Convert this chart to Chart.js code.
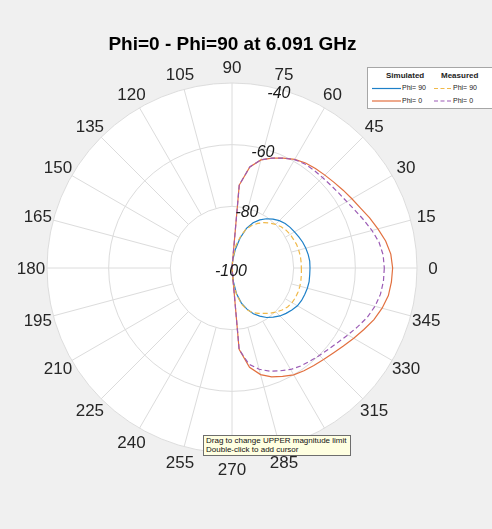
<!DOCTYPE html>
<html>
<head>
<meta charset="utf-8">
<script src="https://cdn.jsdelivr.net/npm/chart.js@4.4.1/dist/chart.umd.min.js"></script>
<style>
  html, body { margin: 0; padding: 0; background: #f0f0f0; }
  #wrap { position: relative; width: 492px; height: 529px; overflow: hidden;
          font-family: "Liberation Sans", Arial, Helvetica, sans-serif; }
  #grafico { position: absolute; left: 0; top: 0; }
  #titulo { position: absolute; left: 0; top: 34px; width: 465px; text-align: center;
            font-size: 19px; line-height: 19px; font-weight: bold; color: #000; }
  #legenda { position: absolute; left: 367px; top: 67px; width: 132px; height: 40px;
             background: #fff; border: 1px solid #a6a6a6; color: #222; }
  #legenda .cab { position: absolute; top: 3px; font-size: 8px; font-weight: bold; line-height: 9px; }
  #legenda .txt { position: absolute; font-size: 7px; line-height: 8px; }
  #legenda svg { position: absolute; left: 0; top: 0; }
  #dica { position: absolute; left: 203px; top: 435px; width: 144px; height: 18px;
          background: #ffffe1; border: 1px solid #6e6e6e; font-size: 8px; line-height: 8.5px;
          color: #111; padding-left: 2px; padding-top: 1px; white-space: nowrap; }
</style>
</head>
<body>
<div id="wrap">
  <canvas id="grafico" width="492" height="529"></canvas>
  <div id="titulo">Phi=0 - Phi=90 at 6.091 GHz</div>
  <div id="legenda">
    <svg width="132" height="40">
      <line x1="4" y1="20.5" x2="33" y2="20.5" stroke="#1e80c8" stroke-width="1.2"/>
      <line x1="66" y1="20.5" x2="83" y2="20.5" stroke="#f0b94a" stroke-width="1.2" stroke-dasharray="4,2.5"/>
      <line x1="4" y1="33" x2="33" y2="33" stroke="#e2703f" stroke-width="1.2"/>
      <line x1="66" y1="33" x2="83" y2="33" stroke="#9b5bb5" stroke-width="1.2" stroke-dasharray="4,2.5"/>
    </svg>
    <div class="cab" style="left:18px">Simulated</div>
    <div class="cab" style="left:73px">Measured</div>
    <div class="txt" style="left:34px; top:16px">Phi= 90</div>
    <div class="txt" style="left:85px; top:16px">Phi= 90</div>
    <div class="txt" style="left:34px; top:29px">Phi= 0</div>
    <div class="txt" style="left:85px; top:29px">Phi= 0</div>
  </div>
  <div id="dica">Drag to change UPPER magnitude limit<br>Double-click to add cursor</div>
</div>
<script>
// angulos de 5 em 5 graus, anti-horario a partir do 0 (direita)
const angulos = [
  0, 5, 10, 15, 20, 25, 30, 35, 40, 45, 50, 55, 60, 65, 70, 75, 80, 85,
  90, 95, 100, 105, 110, 115, 120, 125, 130, 135, 140, 145, 150, 155, 160, 165, 170, 175,
  180, 185, 190, 195, 200, 205, 210, 215, 220, 225, 230, 235, 240, 245, 250, 255, 260, 265,
  270, 275, 280, 285, 290, 295, 300, 305, 310, 315, 320, 325, 330, 335, 340, 345, 350, 355
];
const rotulosAngulo = [0, 15, 30, 45, 60, 75, 90, 105, 120, 135, 150, 165, 180, 195, 210, 225, 240, 255, 270, 285, 300, 315, 330, 345];
const ticksMagnitude = [-40, -60, -80, -100];

const simPhi90 = [
  -74.7, -74.7, -74.9, -75.2, -75.6, -76.1, -76.6, -77.0, -77.5, -78.3, -79.3, -80.5, -82.0, -83.8, -86.3, -90.0, -94.0, -97.5,
  -100, -100, -100, -100, -100, -100, -100, -100, -100, -100, -100, -100, -100, -100, -100, -100, -100, -100,
  -100, -100, -100, -100, -100, -100, -100, -100, -100, -100, -100, -100, -100, -100, -100, -100, -100, -100,
  -100, -96.0, -91.5, -88.2, -85.8, -83.6, -82.0, -80.4, -79.2, -78.0, -77.1, -76.3, -75.5, -75.1, -74.9, -74.7, -74.6, -74.7
];
const simPhi0 = [
  -47.9, -48.3, -49.4, -51.0, -52.5, -54.0, -55.1, -56.0, -56.8, -57.4, -57.9, -58.4, -59.3, -60.7, -62.1, -63.7, -66.7, -73.0,
  -100, -100, -100, -100, -100, -100, -100, -100, -100, -100, -100, -100, -100, -100, -100, -100, -100, -100,
  -100, -100, -100, -100, -100, -100, -100, -100, -100, -100, -100, -100, -100, -100, -100, -100, -100, -100,
  -100, -73.5, -67.3, -64.2, -62.4, -61.2, -60.0, -59.3, -58.7, -58.0, -57.1, -55.9, -54.4, -52.8, -51.0, -49.6, -48.5, -48.1
];
const medPhi90 = [
  -77.5, -77.5, -77.5, -77.6, -77.7, -78.0, -78.2, -78.6, -79.2, -80.0, -81.0, -82.0, -83.3, -84.8, -86.5, -89.5, -92.5, -97.0,
  -100, -100, -100, -100, -100, -100, -100, -100, -100, -100, -100, -100, -100, -100, -100, -100, -100, -100,
  -100, -100, -100, -100, -100, -100, -100, -100, -100, -100, -100, -100, -100, -100, -100, -100, -100, -100,
  -100, -95.0, -91.0, -87.8, -85.5, -84.0, -83.0, -82.0, -80.8, -79.8, -78.8, -78.0, -77.5, -77.3, -77.2, -77.2, -77.3, -77.4
];
const medPhi0 = [
  -50.6, -50.8, -51.6, -53.0, -54.5, -55.9, -57.0, -57.7, -58.2, -58.5, -58.6, -58.8, -59.4, -60.7, -62.1, -63.7, -66.7, -73.0,
  -100, -100, -100, -100, -100, -100, -100, -100, -100, -100, -100, -100, -100, -100, -100, -100, -100, -100,
  -100, -100, -100, -100, -100, -100, -100, -100, -100, -100, -100, -100, -100, -100, -100, -100, -100, -100,
  -100, -73.5, -68.3, -66.0, -64.4, -63.2, -62.0, -61.2, -60.6, -59.9, -59.1, -58.0, -56.6, -55.0, -53.3, -52.0, -51.1, -50.7
];

const corGrade = "#dcdcdc";
const corTexto = "#262626";

// o radar do Chart.js gira no sentido horario, entao invertemos a ordem
const ordem = angulos.map((a, i) => (angulos.length - i) % angulos.length);
const reordena = (serie) => ordem.map((k) => serie[k]);

const extrasPolares = {
  id: "extrasPolares",
  beforeDraw(chart) {
    const s = chart.scales.r;
    const ctx = chart.ctx;
    ctx.save();
    ctx.fillStyle = "#ffffff";
    ctx.beginPath();
    ctx.arc(s.xCenter, s.yCenter, s.drawingArea, 0, Math.PI * 2);
    ctx.fill();
    ctx.restore();
  },
  beforeDatasetsDraw(chart) {
    // raios a cada 15 graus, so do anel de -80 pra fora
    const s = chart.scales.r;
    const ctx = chart.ctx;
    const rIni = s.getDistanceFromCenterForValue(-80);
    ctx.save();
    ctx.strokeStyle = corGrade;
    ctx.lineWidth = 1;
    chart.data.labels.forEach((rot, i) => {
      if (!rotulosAngulo.includes(Number(rot))) return;
      const a = s.getPointPosition(i, rIni);
      const b = s.getPointPosition(i, s.drawingArea);
      ctx.beginPath();
      ctx.moveTo(a.x, a.y);
      ctx.lineTo(b.x, b.y);
      ctx.stroke();
    });
    ctx.restore();
  },
  afterDatasetsDraw(chart) {
    const s = chart.scales.r;
    const ctx = chart.ctx;
    ctx.save();
    ctx.fillStyle = corTexto;
    ctx.textAlign = "center";
    ctx.textBaseline = "middle";
    ctx.font = '17px "Liberation Sans", Arial, sans-serif';
    chart.data.labels.forEach((rot, i) => {
      if (!rotulosAngulo.includes(Number(rot))) return;
      const p = s.getPointPosition(i, s.drawingArea + 16);
      ctx.fillText(rot, p.x, p.y + 1);
    });
    // rotulos de magnitude ao longo de 75 graus
    const idx75 = chart.data.labels.indexOf("75");
    ctx.font = 'italic 16px "Liberation Sans", Arial, sans-serif';
    ctx.fillStyle = "#1a1a1a";
    ticksMagnitude.forEach((v) => {
      const p = s.getPointPosition(idx75, s.getDistanceFromCenterForValue(v));
      ctx.fillText(String(v), p.x - 1, p.y + 4);
    });
    ctx.restore();
  }
};

const grafico = document.getElementById("grafico");

new Chart(grafico, {
  type: "radar",
  data: {
    labels: ordem.map((k) => String(angulos[k])),
    datasets: [
      {
        label: "Measured Phi= 0",
        data: reordena(medPhi0),
        borderColor: "#9b5bb5",
        borderDash: [5, 3],
      },
      {
        label: "Measured Phi= 90",
        data: reordena(medPhi90),
        borderColor: "#f0b94a",
        borderDash: [5, 3],
      },
      {
        label: "Simulated Phi= 0",
        data: reordena(simPhi0),
        borderColor: "#e2703f",
      },
      {
        label: "Simulated Phi= 90",
        data: reordena(simPhi90),
        borderColor: "#1e80c8",
      },
    ],
  },
  options: {
    responsive: false,
    animation: false,
    devicePixelRatio: 1,
    layout: { padding: { left: 47, top: 83, right: 75, bottom: 76 } },
    elements: {
      line: { borderWidth: 1.2, tension: 0, fill: false },
      point: { radius: 0, hoverRadius: 0 },
    },
    plugins: {
      legend: { display: false },
      tooltip: { enabled: false },
    },
    scales: {
      r: {
        min: -100,
        max: -40,
        startAngle: 90,
        ticks: { display: false, stepSize: 20 },
        grid: { circular: true, color: corGrade, lineWidth: 1 },
        angleLines: { display: false },
        pointLabels: { display: false },
      },
    },
  },
  plugins: [extrasPolares],
});
</script>
</body>
</html>
